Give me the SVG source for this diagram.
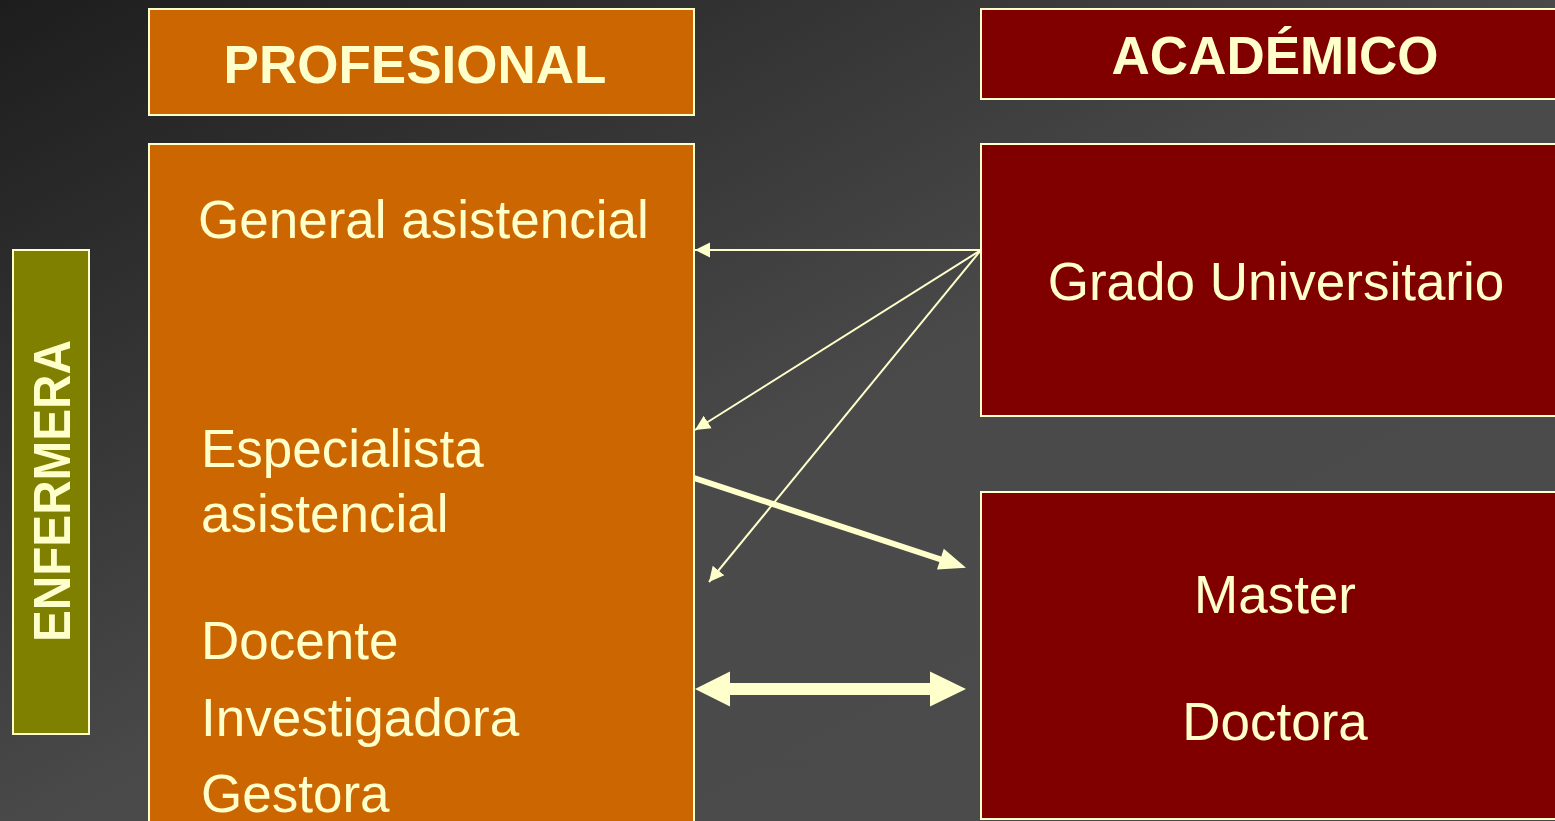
<svg xmlns="http://www.w3.org/2000/svg" width="1555" height="821" viewBox="0 0 1555 821">
<defs>
<linearGradient id="bg" x1="0" y1="0" x2="1" y2="1">
<stop offset="0" stop-color="#1d1d1d"/>
<stop offset="0.52" stop-color="#4a4a4a"/>
<stop offset="1" stop-color="#4b4b4b"/>
</linearGradient>
<marker id="ah" markerUnits="userSpaceOnUse" markerWidth="16" markerHeight="16" viewBox="0 0 16 16" refX="15" refY="8" orient="auto">
<path d="M0,0.5 L15,8 L0,15.5 Z" fill="#FFFFCC"/>
</marker>
<style>
.box{stroke:#FFFFCC;stroke-width:2}
.prof{fill:#CC6600}
.acad{fill:#800000}
.enf{fill:#808000}
.t{font-family:"Liberation Sans",Arial,sans-serif;fill:#FFFFCC;font-size:53px}
.b{font-weight:bold}
.thin{stroke:#FFFFCC;stroke-width:2;fill:none}
</style>
</defs>
<rect x="0" y="0" width="1555" height="821" fill="url(#bg)"/>

<g id="enfermera">
<rect class="box enf" x="13" y="250" width="76" height="484"/>
<text class="t b" text-anchor="middle" textLength="302" lengthAdjust="spacingAndGlyphs" transform="translate(70,491) rotate(-90)" style="font-size:51px">ENFERMERA</text>
</g>

<g id="profesional">
<rect class="box prof" x="149" y="9" width="545" height="106"/>
<text class="t b" x="415" y="83" text-anchor="middle">PROFESIONAL</text>
</g>

<g id="roles">
<rect class="box prof" x="149" y="144" width="545" height="690"/>
<text class="t" x="198" y="238">General asistencial</text>
<text class="t" x="201" y="467">Especialista</text>
<text class="t" x="201" y="532">asistencial</text>
<text class="t" x="201" y="659">Docente</text>
<text class="t" x="201" y="736">Investigadora</text>
<text class="t" x="201" y="812">Gestora</text>
</g>

<g id="academico">
<rect class="box acad" x="981" y="9" width="590" height="90"/>
<text class="t b" x="1275" y="74" text-anchor="middle">ACADÉMICO</text>
</g>

<g id="grado">
<rect class="box acad" x="981" y="144" width="590" height="272"/>
<text class="t" x="1276" y="300" text-anchor="middle">Grado Universitario</text>
</g>

<g id="posgrado">
<rect class="box acad" x="981" y="492" width="590" height="327"/>
<text class="t" x="1275" y="613" text-anchor="middle">Master</text>
<text class="t" x="1275" y="740" text-anchor="middle">Doctora</text>
</g>

<g id="connectors">
<line class="thin" x1="981" y1="250" x2="695" y2="250" marker-end="url(#ah)"/>
<line class="thin" x1="981" y1="250" x2="695" y2="430" marker-end="url(#ah)"/>
<line class="thin" x1="981" y1="250" x2="709" y2="582" marker-end="url(#ah)"/>
<line x1="694" y1="478" x2="941" y2="559.5" stroke="#FFFFCC" stroke-width="6"/>
<polygon points="966,567.7 937,569.6 943.8,548.8" fill="#FFFFCC"/>
<polygon points="695,689 730,671.5 730,683 930,683 930,671.5 966,689 930,706.5 930,695 730,695 730,706.5" fill="#FFFFCC"/>
</g>
</svg>
